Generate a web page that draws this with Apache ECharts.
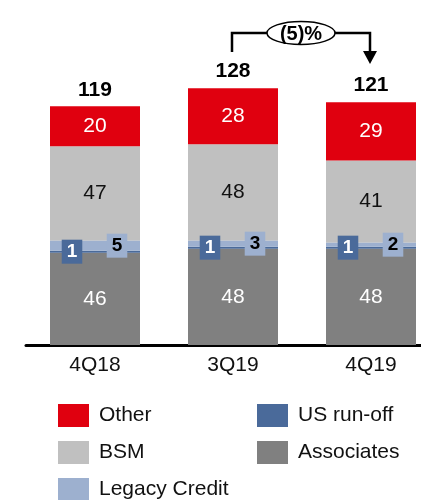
<!DOCTYPE html>
<html>
<head>
<meta charset="utf-8">
<script src="https://cdn.jsdelivr.net/npm/echarts@6/dist/echarts.min.js"></script>
<style>
  html, body { margin: 0; padding: 0; background: #fff; }
  #chart { width: 421px; height: 500px; }
</style>
</head>
<body>
<div id="chart"></div>
<script>
// Quarterly contribution by segment, stacked bottom to top
const quarters     = ['4Q18', '3Q19', '4Q19'];
const associates   = [46, 48, 48];
const usRunOff     = [1, 1, 1];
const legacyCredit = [5, 3, 2];
const bsm          = [47, 48, 41];
const other        = [20, 28, 29];
const totals       = [119, 128, 121];
const changeLabel  = '(5)%';

const FONT = '"Liberation Sans", Arial, sans-serif';
const RED = '#e0000f', LIGHT_GREY = '#c0c0c0', DARK_GREY = '#808080';
const DARK_BLUE = '#4a6a9a', LIGHT_BLUE = '#9db0cf';

const chart = echarts.init(document.getElementById('chart'), null, { renderer: 'canvas' });

function inner(color) {
  return { show: true, position: 'inside', color: color, fontFamily: FONT, fontSize: 21 };
}
function tag(bg, color, dx) {
  return {
    show: true, position: 'inside', offset: [dx, 0],
    backgroundColor: bg, color: color, fontFamily: FONT, fontWeight: 'bold',
    fontSize: 19, lineHeight: 20, padding: [2, 5, 2, 5]
  };
}

const barBase = { type: 'bar', stack: 'total', barWidth: 90 };
const legendText = { fontFamily: FONT, fontSize: 21, color: '#111', padding: [0, 0, 0, 5] };

chart.setOption({
  animation: false,
  // the category band runs past the right edge, so the grid is not clamped to the canvas
  grid: { left: 26, width: 414, top: 44, bottom: 155, outerBoundsMode: 'none', containLabel: false },
  xAxis: {
    type: 'category', data: quarters,
    axisLine: { lineStyle: { color: '#000', width: 3 } },
    axisTick: { show: false },
    axisLabel: { color: '#111', fontFamily: FONT, fontSize: 21, margin: 10 }
  },
  yAxis: { type: 'value', min: 0, max: 150, show: false, splitLine: { show: false } },
  legend: [
    {
      orient: 'vertical', left: 53, top: 399, height: 120, itemWidth: 31, itemHeight: 23, itemGap: 14,
      icon: 'rect', data: ['Other', 'BSM', 'Legacy Credit'], textStyle: legendText
    },
    {
      orient: 'vertical', left: 252, top: 399, height: 120, itemWidth: 31, itemHeight: 23, itemGap: 14,
      icon: 'rect', data: ['US run-off', 'Associates'], textStyle: legendText
    }
  ],
  series: [
    Object.assign({}, barBase, { name: 'Associates', data: associates, itemStyle: { color: DARK_GREY }, label: inner('#fff') }),
    Object.assign({}, barBase, { name: 'US run-off', data: usRunOff, itemStyle: { color: DARK_BLUE }, label: tag(DARK_BLUE, '#fff', -23), z: 3 }),
    Object.assign({}, barBase, { name: 'Legacy Credit', data: legacyCredit, itemStyle: { color: LIGHT_BLUE }, label: tag(LIGHT_BLUE, '#000', 22), z: 3 }),
    Object.assign({}, barBase, { name: 'BSM', data: bsm, itemStyle: { color: LIGHT_GREY }, label: inner('#111') }),
    Object.assign({}, barBase, { name: 'Other', data: other, itemStyle: { color: RED }, label: inner('#fff') }),
    // Totals sit on top of the stack
    {
      type: 'bar', stack: 'total', name: 'total', data: totals.map(() => 0), barWidth: 90,
      itemStyle: { color: 'transparent' },
      label: {
        show: true, position: 'top', distance: 6,
        formatter: p => String(totals[p.dataIndex]),
        color: '#000', fontFamily: FONT, fontWeight: 'bold', fontSize: 21
      }
    }
  ]
});

// Change bracket from 3Q19 to 4Q19
const pA = chart.convertToPixel({ xAxisIndex: 0, yAxisIndex: 0 }, [1, totals[1]]);
const pB = chart.convertToPixel({ xAxisIndex: 0, yAxisIndex: 0 }, [2, totals[2]]);
const xA = Math.round(pA[0]) - 1, xB = Math.round(pB[0]) - 1;
const yTop = Math.round(pA[1]) - 55;
const xMid = (xA + xB) / 2;
const rx = 34, ry = 11.5;
const stroke = { stroke: '#000', lineWidth: 2.5, fill: null };

chart.setOption({
  graphic: [
    { type: 'polyline', shape: { points: [[xA, yTop + 19], [xA, yTop], [xMid - rx, yTop]] }, style: stroke },
    { type: 'polyline', shape: { points: [[xMid + rx, yTop], [xB, yTop], [xB, yTop + 19]] }, style: stroke },
    { type: 'polygon', shape: { points: [[xB - 7, yTop + 18], [xB + 7, yTop + 18], [xB, yTop + 31]] }, style: { fill: '#000' } },
    { type: 'ellipse', shape: { cx: xMid, cy: yTop, rx: rx, ry: ry }, style: { fill: '#fff', stroke: '#000', lineWidth: 1.5 } },
    {
      type: 'text', x: xMid, y: yTop + 1,
      style: { text: changeLabel, font: 'bold 20px ' + FONT, fill: '#000', align: 'center', verticalAlign: 'middle' }
    }
  ]
});
</script>
</body>
</html>
